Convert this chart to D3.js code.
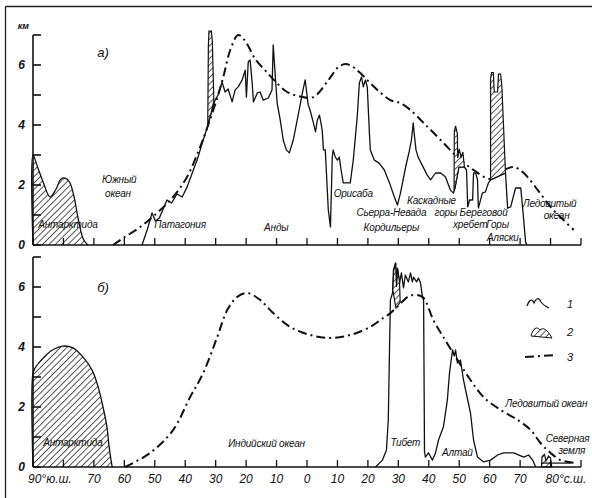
<!DOCTYPE html>
<html><head><meta charset="utf-8">
<script src="https://cdn.jsdelivr.net/npm/d3@7"></script>
<style>
body{margin:0;background:#fff;}
svg{display:block;}
text{font-family:"Liberation Sans","DejaVu Sans",sans-serif;font-style:italic;fill:#111;}
</style></head><body>
<svg id="c" width="592" height="498"></svg>
<script>
// ---------- DATA (latitude in degrees, south negative; height in km) ----------
const latTicks = d3.range(-90, 91, 10);
const latLabels = [[-90,"90°ю.ш."],[-70,"70"],[-60,"60"],[-50,"50"],[-40,"40"],[-30,"30"],[-20,"20"],[-10,"10"],[0,"0"],[10,"10"],[20,"20"],[30,"30"],[40,"40"],[50,"50"],[60,"60"],[70,"70"],[80,"80°с.ш."]];
const kmTicks = [0,1,2,3,4,5,6,7];
const kmLabels = [0,2,4,6];

// panel a) - America
const aAntarctica = [[-90,0],[-90,3.0],[-88.5,2.6],[-86.5,2.05],[-84.4,1.6],[-82.5,1.85],[-80.8,2.2],[-79.5,2.23],[-78,2.1],[-76.5,1.6],[-75.2,0.9],[-73.5,0.2],[-72,0]];
const aRelief = [[-54.2,0],[-52.5,0.5],[-50.9,1.07],[-49.8,0.8],[-48.5,0.9],[-46.0,1.5],[-44.5,1.4],[-42.7,1.7],[-41,1.6],[-39.4,1.93],[-37.7,2.4],[-36.1,2.83],[-34.1,3.5],[-32.5,4.0],[-31.5,4.4],[-30.2,4.83],[-29.2,5.0],[-27.9,5.43],[-26.9,5.1],[-25.9,5.2],[-24.6,4.77],[-23.6,5.17],[-22.6,5.27],[-21.3,5.5],[-20.3,5.83],[-19.9,4.93],[-19.3,6.1],[-18.7,6.17],[-18.0,5.4],[-17.6,4.77],[-16.3,5.07],[-15.4,5.1],[-14.4,4.83],[-12.7,4.9],[-11.5,5.17],[-11.1,6.67],[-10.4,5.6],[-9.8,4.73],[-8.8,4.17],[-7.8,3.5],[-6.8,3.17],[-5.8,3.07],[-4.5,3.5],[-2.9,4.33],[-1.2,5.23],[-0.6,5.5],[0.4,4.67],[1.0,4.5],[2.1,4.07],[2.8,3.77],[3.4,4.17],[4.1,4.33],[5.0,3.83],[5.4,3.17],[6.0,3.17],[7.0,1.17],[7.7,0.6],[8.3,2.93],[8.6,3.17],[9.3,2.93],[10.0,2.83],[10.6,2.93],[11.2,2.5],[11.9,2.07],[14.2,2.07],[15.2,2.83],[16.5,4.27],[17.2,5.4],[17.9,5.6],[18.5,5.27],[19.2,5.5],[19.8,5.27],[20.5,3.73],[20.8,3.17],[22.1,2.83],[23.7,2.73],[25.4,2.5],[27.1,2.07],[28.7,1.6],[29.7,1.33],[30.7,1.73],[32.4,2.6],[33.6,3.13],[34.3,3.5],[34.9,4.07],[35.2,3.73],[35.8,3.17],[36.5,2.93],[37.5,2.73],[39.5,2.33],[40.6,2.17],[42.2,2.4],[43.9,2.4],[45.5,2.27],[47.1,1.83],[48.1,1.73],[48.6,1.9],[49.9,2.6],[51.7,2.6],[52.4,2.5],[52.8,1.27],[53.4,1.5],[54.4,1.5],[54.7,2.4],[55.4,2.4],[56.0,2.17],[56.3,1.23],[57.6,1.73],[58.6,1.77],[59.6,2.07],[60.3,2.17],[65.2,2.4],[65.9,1.23],[66.9,1.27],[68.5,1.9],[70.2,1.9],[70.8,1.27],[71.8,0.1],[72.2,0]];
const aIceAndes = [[-32.6,4.0],[-32.4,6.6],[-32.2,7.13],[-31.4,7.13],[-31.1,6.8],[-30.6,4.8],[-31.5,4.4]];
const aIceCascade = [[48.3,1.8],[48.4,3.8],[48.8,3.97],[49.4,3.7],[49.5,2.9],[50.0,3.2],[50.6,2.93],[51.2,3.1],[51.7,2.6],[49.9,2.6],[48.6,1.9]];
const aIceCoast = [[60.3,2.17],[60.3,5.55],[60.6,5.75],[61.2,5.75],[61.5,5.1],[62.6,5.1],[62.9,5.7],[63.6,5.7],[64.0,5.3],[65.2,2.4]];
const aSnowLine = [[-63.7,0],[-60.4,0.23],[-54.8,0.6],[-49.2,1.07],[-44.0,1.6],[-39.4,2.27],[-35.1,3.27],[-32.8,3.9],[-29.5,4.9],[-27.5,5.6],[-25.2,6.5],[-22.6,7.0],[-20.3,6.8],[-17.0,6.2],[-13.1,5.75],[-10.4,5.45],[-6.5,5.1],[-2.2,4.95],[2.1,4.93],[6.7,5.45],[10.3,5.93],[12.6,6.03],[14.9,5.95],[17.5,5.73],[23.1,5.17],[27.4,4.83],[30.7,4.73],[34.0,4.5],[38.3,4.07],[43.9,3.5],[49.4,2.93],[54.7,2.5],[60.3,2.2],[64.7,2.5],[68.0,2.6],[71.2,2.4],[75.8,1.83],[80.0,1.27],[84.3,0.83],[87.6,0.5]];

// panel б) - Asia
const bAntarctica = [[-90,0],[-90,3.13],[-89.3,3.3],[-86.7,3.63],[-83.6,3.9],[-80.2,4.03],[-76.9,3.97],[-73.6,3.67],[-70.6,3.23],[-68.6,2.67],[-67.0,2.0],[-65.7,1.33],[-65.0,0.67],[-64.0,0]];
const bRelief = [[22.5,0],[24.8,0.23],[26.1,0.57],[26.7,1.57],[27.1,3.9],[27.4,5.57],[28.1,5.8],[28.4,6.57],[29.1,6.8],[29.4,5.9],[29.7,6.63],[30.4,6.13],[31.0,6.47],[31.7,5.97],[32.3,6.4],[33.3,6.17],[34.0,6.47],[34.6,6.17],[35.0,6.33],[36.0,6.17],[36.6,6.3],[37.3,6.13],[37.9,5.67],[38.3,5.57],[38.6,0.5],[38.9,0.33],[39.9,0.47],[41.2,0.23],[42.2,0.47],[43.2,0.9],[44.8,1.33],[46.1,2.23],[46.8,3.13],[47.8,3.9],[48.4,3.7],[48.8,3.9],[49.4,3.47],[50.4,3.57],[51.4,2.9],[53.7,1.8],[54.7,0.9],[56.0,0.33],[58.0,0.17],[60.3,0.23],[62.6,0.4],[64.6,0.47],[67.9,0.47],[71.2,0.33],[72.8,0.4],[74.1,0.23],[75.1,0]];
const bIceTibet = [[28.2,5.9],[28.5,6.55],[29.1,6.8],[29.4,6.0],[29.8,6.6],[30.4,6.15],[30.6,5.5],[29.2,5.3]];
const bIceSevZemlya = [[77.0,0],[77.2,0.35],[78.0,0.42],[78.5,0.2],[79.3,0.37],[80.0,0.3],[80.4,0]];
const bSevZemlyaLine = [[77.0,0.13],[86.8,0.13]];
const bSnowLine = [[-59.8,0],[-51.5,0.47],[-44.0,1.23],[-38.4,2.33],[-34.1,3.13],[-29.5,4.33],[-26.2,5.23],[-22.9,5.67],[-19.6,5.8],[-15.4,5.57],[-11.1,5.13],[-5.5,4.67],[1.1,4.4],[7.7,4.3],[14.2,4.4],[20.8,4.67],[25.1,4.97],[27.4,5.13],[30.7,5.45],[34.0,5.72],[37.9,5.67],[41.5,4.9],[44.8,4.33],[49.4,3.57],[53.7,2.9],[58.0,2.33],[63.6,1.9],[69.2,1.57],[73.5,1.23],[76.7,0.8],[80.0,0.47],[83.3,0.23],[88.3,0.13]];

const aNotes = [["Антарктида",-78.5,0.67],["Южный",-61.7,2.17],["океан",-62.1,1.73],["Патагония",-41.7,0.67],["Анды",-10.1,0.57],["Орисаба",15.2,1.73],["Сьерра-Невада",27.7,1.07],["Кордильеры",27.7,0.57],["Каскадные",40.9,1.5],["горы",45.6,1.07],["Береговой",58.0,1.1],["хребет",53.6,0.67],["Горы",62.6,0.67],["Аляски",64.3,0.25],["Ледовитый",79.7,1.4],["океан",82.0,1.0]];
const bNotes = [["Антарктида",-76.9,0.83],["Индийский  океан",-13.3,0.8],["Тибет",32.3,0.83],["Алтай",49.4,0.5],["Ледовитый океан",78.6,2.13],["Северная",85.6,0.95],["земля",87.0,0.55]];
const legendLabels = ["1","2","3"];

// ---------- DRAWING ----------
const svg = d3.select("#c");
const x = d3.scaleLinear([-90,90],[33,581]);
const yA = d3.scaleLinear([0,7],[245,35]);
const yB = d3.scaleLinear([0,7],[467,257]);

const defs = svg.append("defs");
const pat = defs.append("pattern").attr("id","hatch").attr("patternUnits","userSpaceOnUse")
  .attr("width",4.5).attr("height",4.5).attr("patternTransform","rotate(45)");
pat.append("rect").attr("width",4.5).attr("height",4.5).attr("fill","#fff");
pat.append("line").attr("x1",0).attr("y1",0).attr("x2",0).attr("y2",4.5).attr("stroke","#111").attr("stroke-width",1.4);

// frame
svg.append("line").attr("x1",5.5).attr("y1",6.5).attr("x2",592).attr("y2",6.5).attr("stroke","#222").attr("stroke-width",1.3);
svg.append("line").attr("x1",5.5).attr("y1",6.5).attr("x2",5.5).attr("y2",498).attr("stroke","#222").attr("stroke-width",1.3);

function panel(y, tag, ant, relief, ices, snow, notes, showLabels){
  const g = svg.append("g");
  const line = d3.line().x(d=>x(d[0])).y(d=>y(d[1]));
  const smooth = d3.line().x(d=>x(d[0])).y(d=>y(d[1])).curve(d3.curveCatmullRom);
  g.append("path").attr("d",smooth(ant)).attr("fill","url(#hatch)").attr("stroke","#111").attr("stroke-width",1.3);
  g.append("path").attr("d",smooth(snow)).attr("fill","none").attr("stroke","#111")
    .attr("stroke-width",2).attr("stroke-dasharray","9,4,2,4");
  g.append("path").attr("d",line(relief)).attr("fill","none").attr("stroke","#111").attr("stroke-width",1.3).attr("stroke-linejoin","round");
  ices.forEach(p=>{
    g.append("path").attr("d",line(p)+"Z").attr("fill","url(#hatch)").attr("stroke","#111").attr("stroke-width",1.2);
  });
  g.append("line").attr("x1",x(-90)).attr("x2",x(-90)).attr("y1",y(0)).attr("y2",y(7)).attr("stroke","#111").attr("stroke-width",1.6);
  g.selectAll(".yt").data(kmTicks).join("line")
    .attr("x1",x(-90)).attr("x2",x(-90)+8).attr("y1",d=>y(d)).attr("y2",d=>y(d)).attr("stroke","#111").attr("stroke-width",1.6);
  g.selectAll(".yl").data(kmLabels).join("text")
    .attr("x",x(-90)-8).attr("y",d=>y(d)).attr("dy","0.36em").attr("text-anchor","end")
    .attr("font-size",12).attr("font-weight","bold").text(d=>d);
  g.append("line").attr("x1",x(-90)).attr("x2",x(90)).attr("y1",y(0)).attr("y2",y(0)).attr("stroke","#111").attr("stroke-width",1.6);
  g.selectAll(".xt").data(latTicks).join("line")
    .attr("x1",d=>x(d)).attr("x2",d=>x(d)).attr("y1",y(0)).attr("y2",y(0)-7).attr("stroke","#111").attr("stroke-width",1.3);
  if(showLabels){
    g.selectAll(".xl").data(latLabels).join("text")
      .attr("x",d=>(d[0]===-90||d[0]===80)? x(d[0])-5 : x(d[0]))
      .attr("y",y(0)+16).attr("text-anchor",d=>(d[0]===-90||d[0]===80)?"start":"middle")
      .attr("font-size",12).text(d=>d[1]);
  }
  g.selectAll(".nt").data(notes).join("text")
    .attr("x",d=>x(d[1])).attr("y",d=>y(d[2])).attr("dy","0.35em").attr("text-anchor","middle")
    .attr("font-size",10).attr("letter-spacing",-0.2).text(d=>d[0]);
  g.append("text").attr("x",x(-67)).attr("y",y(tag[1])).attr("dy","0.35em").attr("text-anchor","middle")
    .attr("font-size",13).text(tag[0]);
  return g;
}

const gA = panel(yA, ["а)",6.43], aAntarctica, aRelief, [aIceAndes,aIceCascade,aIceCoast], aSnowLine, aNotes, false);
svg.append("text").attr("x",x(-90)-4).attr("y",yA(7)-6).attr("text-anchor","end").attr("font-size",9).attr("font-weight","bold").text("км");
const gB = panel(yB, ["б)",6.0], bAntarctica, bRelief, [bIceTibet,bIceSevZemlya], bSnowLine, bNotes, true);
gB.append("path").attr("d",d3.line().x(d=>x(d[0])).y(d=>yB(d[1]))(bSevZemlyaLine)).attr("stroke","#111").attr("fill","none").attr("stroke-width",1.2);

// legend
const lg = svg.append("g").attr("transform","translate(525,300)");
lg.append("path").attr("d","M2,6 C4,0 7,-2 9,3 C11,-2 14,-3 16,2 C18,5 20,6 24,8").attr("fill","none").attr("stroke","#111").attr("stroke-width",1.2);
lg.append("path").attr("d","M6,36 C8,28 12,26 15,30 C18,27 22,29 27,38 Z").attr("fill","url(#hatch)").attr("stroke","#111").attr("stroke-width",1);
lg.append("line").attr("x1",0).attr("x2",32).attr("y1",57).attr("y2",55).attr("stroke","#111").attr("stroke-width",2).attr("stroke-dasharray","9,4,2,4");
lg.selectAll(".ll").data(legendLabels).join("text").attr("x",42).attr("y",(d,i)=>[4,32,57][i]).attr("dy","0.35em")
  .attr("font-size",11).text(d=>d);
</script>
</body></html>
